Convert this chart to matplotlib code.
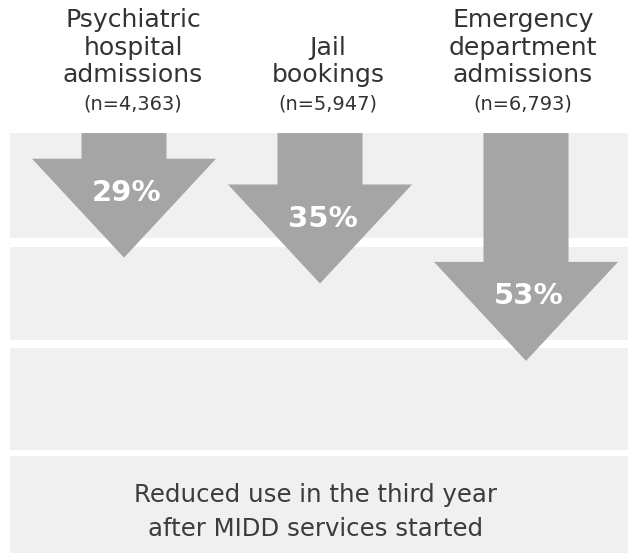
import matplotlib
matplotlib.use("Agg")
import matplotlib.pyplot as plt
from matplotlib.patches import Polygon, Rectangle

# ---- data ----
categories = [["Psychiatric", "hospital", "admissions"],
              ["Jail", "bookings"],
              ["Emergency", "department", "admissions"]]
counts = [4363, 5947, 6793]
reductions = [29, 35, 53]
caption = ["Reduced use in the third year", "after MIDD services started"]

# ---- layout ----
W, H = 628, 553
fig = plt.figure(figsize=(W / 100, H / 100), dpi=100)
fig.patch.set_facecolor("white")
renderer = fig.canvas.get_renderer()

bg = fig.add_axes([0, 0, 1, 1])
bg.set_xlim(0, W)
bg.set_ylim(H, 0)
bg.axis("off")


def fit_size(text, family, weight, target_px, base=20):
    t = fig.text(0, 0, text, fontsize=base, family=family, fontweight=weight)
    w = t.get_window_extent(renderer).width
    t.remove()
    return base * target_px / w


bands = [(133, 238), (247, 340), (348, 450), (456, 553)]
for t, b in bands:
    bg.add_patch(Rectangle((10, t), W - 10, b - t, facecolor="#f0f0f0",
                           edgecolor="none", zorder=0))

PX_PER_PCT = 4.3
TOP = 133
ax = fig.add_axes([0, 0, 1, 1], facecolor="none")
ax.set_xlim(0, W)
ax.set_ylim((H - TOP) / PX_PER_PCT, -TOP / PX_PER_PCT)
ax.axis("off")

arrow_x = [124, 320, 526]
header_x = [133, 328, 523]
shaft_half = 42.5
head_half = 92
head_len = 99 / PX_PER_PCT

for x, v in zip(arrow_x, reductions):
    hy = v - head_len
    pts = [(x - shaft_half, 0), (x + shaft_half, 0), (x + shaft_half, hy),
           (x + head_half, hy), (x, v), (x - head_half, hy),
           (x - shaft_half, hy)]
    ax.add_patch(Polygon(pts, closed=True, facecolor="#a5a5a5",
                         edgecolor="none", zorder=2))
    ax.text(x + 3, v - 65 / PX_PER_PCT, f"{v}%", ha="center", va="center",
            color="white", fontsize=21, fontweight="bold",
            family="DejaVu Sans", zorder=3)

txt_color = "#333333"
HFONT = "DejaVu Sans"
hsize = fit_size("Psychiatric", HFONT, "normal", 136)
nsize = fit_size("(n=4,363)", HFONT, "normal", 99)
for hx, lines, n in zip(header_x, categories, counts):
    for i, line in enumerate(reversed(lines)):
        bg.text(hx, 82 - 27.5 * i, line, ha="center", va="baseline",
                fontsize=hsize, color=txt_color, family=HFONT)
    bg.text(hx, 110, f"(n={n:,})", ha="center", va="baseline",
            fontsize=nsize, color=txt_color, family=HFONT)

CFONT = "DejaVu Sans"
csize = fit_size(caption[0], CFONT, "normal", 362)
for i, line in enumerate(caption):
    bg.text(316, 502 + 34 * i, line, ha="center", va="baseline",
            fontsize=csize, color="#3c3c3c", family=CFONT)

fig.savefig("out.png", dpi=100, facecolor="white")
